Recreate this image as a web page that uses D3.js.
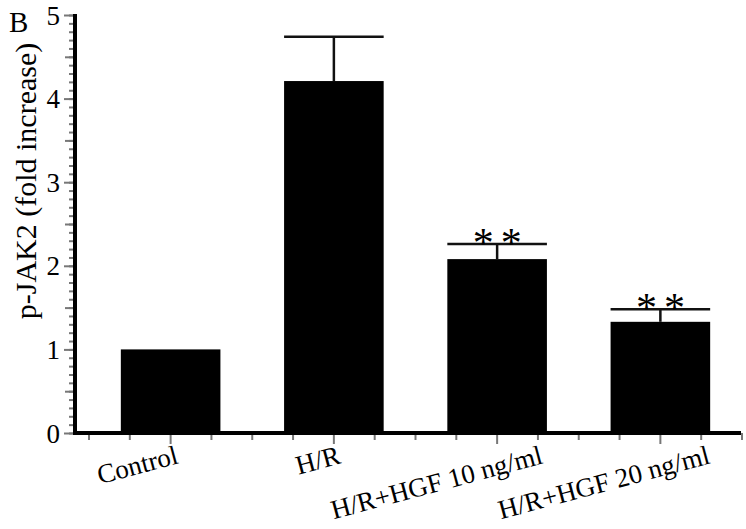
<!DOCTYPE html>
<html>
<head>
<meta charset="utf-8">
<script src="https://cdn.jsdelivr.net/npm/d3@7"></script>
<style>
  body { margin: 0; background: #fff; }
  svg text { font-family: "Liberation Serif", "Times New Roman", serif; fill: #000; }
</style>
</head>
<body>
<div id="chart"></div>
<script>
// data
var categories = ["Control", "H/R", "H/R+HGF 10 ng/ml", "H/R+HGF 20 ng/ml"];
var means = [1.0, 4.21, 2.08, 1.33];
var errors = [0, 0.53, 0.18, 0.15];
var stars = ["", "", "**", "**"];
var yTicks = [0, 1, 2, 3, 4, 5];

// label nudges (layout only)
var labelShift = [9, 8, 47, 51];

var w = 746, h = 529;

var svg = d3.select("#chart").append("svg").attr("width", w).attr("height", h);

var yScale = d3.scaleLinear().domain([0, 5]).range([433, 15]);

var xScale = d3.scaleBand().domain(categories)
    .range([89, 742])
    .paddingInner(0.39)
    .paddingOuter(0.195);

// quarter positions for the small x ticks
var xq = d3.scaleLinear().domain([-0.5, categories.length - 0.5]).range([89, 742]);

var axisX = 75;

function greyTicks(g) {
    g.select(".domain").remove();
    g.selectAll("line").attr("stroke", "#777").attr("stroke-width", 2);
}

// y minor ticks (every 0.1)
var yMinor = d3.axisLeft(yScale).tickValues(d3.range(0, 5.001, 0.1)).tickSize(6).tickFormat("");
svg.append("g").attr("transform", "translate(" + axisX + ",0)").call(yMinor).call(greyTicks);

// y medium ticks (every 0.5)
var yMid = d3.axisLeft(yScale).tickValues(d3.range(0.5, 5, 1)).tickSize(10).tickFormat("");
svg.append("g").attr("transform", "translate(" + axisX + ",0)").call(yMid).call(greyTicks);

// y major ticks with labels
var yAxis = d3.axisLeft(yScale).tickValues(yTicks).tickSize(11).tickPadding(4).tickFormat(d3.format("d"));
svg.append("g").attr("transform", "translate(" + axisX + ",0)").call(yAxis)
    .call(greyTicks)
    .call(function (g) {
        g.selectAll("text").attr("font-size", "27px").attr("dy", "0.34em");
    });

// x small ticks
var xTickVals = d3.range(-0.5, categories.length - 0.5 + 0.001, 0.25);
svg.append("g").selectAll("line").data(xTickVals).enter().append("line")
    .attr("x1", function (d) { return xq(d); })
    .attr("x2", function (d) { return xq(d); })
    .attr("y1", yScale(0))
    .attr("y2", function (d) { return yScale(0) + (Math.abs(d - Math.round(d)) < 0.01 ? 11 : 7); })
    .attr("stroke", "#777").attr("stroke-width", 2);

// bars
svg.append("g").selectAll("rect").data(categories).enter().append("rect")
    .attr("x", function (d) { return xScale(d); })
    .attr("y", function (d, i) { return yScale(means[i]); })
    .attr("width", xScale.bandwidth())
    .attr("height", function (d, i) { return yScale(0) - yScale(means[i]); })
    .attr("fill", "#000");

// error bars (upper only)
var err = svg.append("g").selectAll("g").data(categories).enter().append("g")
    .filter(function (d, i) { return errors[i] > 0; });

err.append("line")
    .attr("x1", function (d) { return xScale(d) + xScale.bandwidth() / 2; })
    .attr("x2", function (d) { return xScale(d) + xScale.bandwidth() / 2; })
    .attr("y1", function (d) { var i = categories.indexOf(d); return yScale(means[i]); })
    .attr("y2", function (d) { var i = categories.indexOf(d); return yScale(means[i] + errors[i]); })
    .attr("stroke", "#111").attr("stroke-width", 2.5);

err.append("line")
    .attr("x1", function (d) { return xScale(d); })
    .attr("x2", function (d) { return xScale(d) + xScale.bandwidth(); })
    .attr("y1", function (d) { var i = categories.indexOf(d); return yScale(means[i] + errors[i]); })
    .attr("y2", function (d) { var i = categories.indexOf(d); return yScale(means[i] + errors[i]); })
    .attr("stroke", "#111").attr("stroke-width", 2.5);

// significance asterisks
categories.forEach(function (c, i) {
    if (!stars[i]) return;
    var cx = xScale(c) + xScale.bandwidth() / 2;
    var top = yScale(means[i] + errors[i]);
    [-14, 14].forEach(function (dx) {
        svg.append("text")
            .attr("x", cx + dx)
            .attr("y", top + 13)
            .attr("text-anchor", "middle")
            .attr("font-size", "42px")
            .text("*");
    });
});

// axis lines (drawn on top)
svg.append("line").attr("x1", axisX).attr("x2", axisX).attr("y1", yScale(5) - 1).attr("y2", yScale(0) + 2)
    .attr("stroke", "#000").attr("stroke-width", 4);
svg.append("line").attr("x1", axisX - 2).attr("x2", 741).attr("y1", yScale(0)).attr("y2", yScale(0))
    .attr("stroke", "#000").attr("stroke-width", 4);

// x labels, rotated
svg.append("g").selectAll("text").data(categories).enter().append("text")
    .attr("transform", function (d, i) {
        var x = xScale(d) + xScale.bandwidth() / 2 + labelShift[i];
        return "translate(" + x + ",463) rotate(-15)";
    })
    .attr("text-anchor", "end")
    .attr("font-size", "27px")
    .text(function (d) { return d; });

// y title
svg.append("text")
    .attr("transform", "translate(36,181) rotate(-90)")
    .attr("text-anchor", "middle")
    .attr("font-size", "30px")
    .text("p-JAK2 (fold increase)");

// panel letter
svg.append("text").attr("x", 9).attr("y", 32).attr("font-size", "29px").text("B");
</script>
</body>
</html>
